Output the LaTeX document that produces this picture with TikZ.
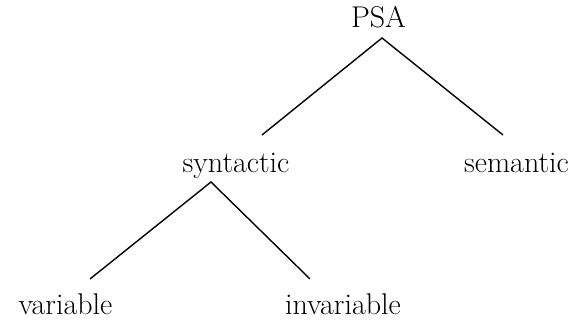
\documentclass[tikz,border=0pt]{standalone}
\begin{document}
\begin{tikzpicture}[x=0.5pt,y=-0.5pt,
  lbl/.style={anchor=base,inner sep=0pt,font=\fontsize{15}{18}\selectfont},
  edge/.style={line width=0.7pt}]
\useasboundingbox (0,0) rectangle (575,324);
\node[lbl] (psa) at (378.5,28) {PSA};
\node[lbl] (syn) at (236,173) {syntactic};
\node[lbl] (sem) at (516.5,173) {semantic};
\node[lbl] (var) at (65.5,315) {variable};
\node[lbl] (inv) at (343,315) {invariable};
\coordinate (psaapex) at (382,38);
\coordinate (synend) at (262,135);
\coordinate (semend) at (503,135);
\coordinate (synapex) at (211,182);
\coordinate (varend) at (90,279);
\coordinate (invend) at (310,279);
\draw[edge] (synend) -- (psaapex) -- (semend);
\draw[edge] (varend) -- (synapex) -- (invend);
\end{tikzpicture}
\end{document}
